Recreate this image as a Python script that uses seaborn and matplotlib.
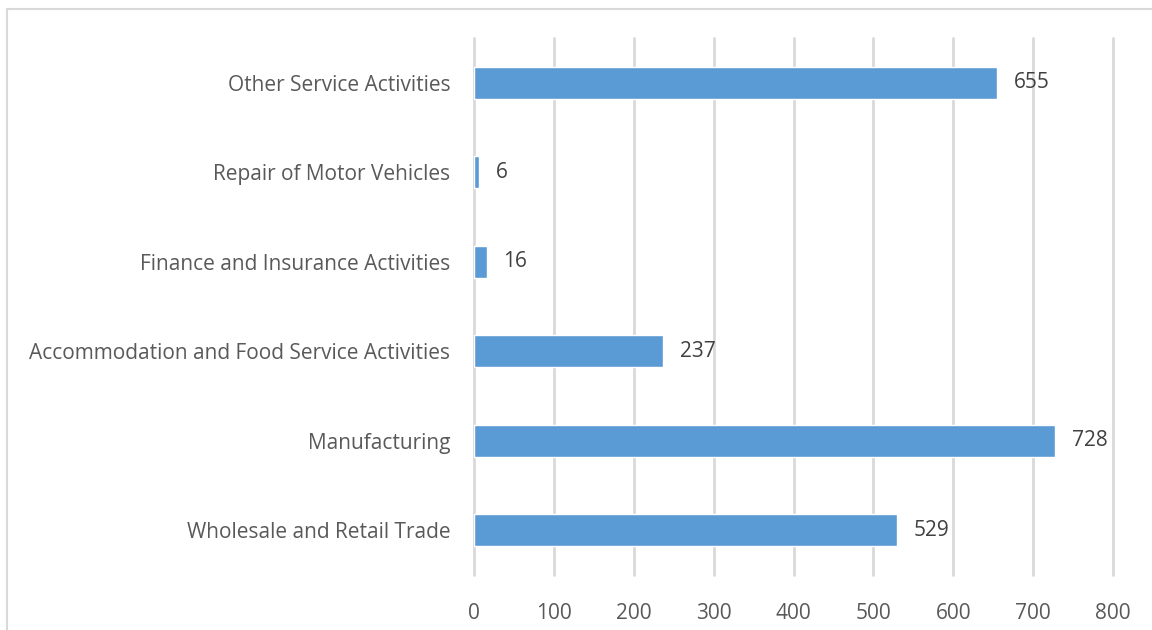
import pandas as pd
import matplotlib.pyplot as plt
import seaborn as sns
from matplotlib.patches import Rectangle

# Chart data (top to bottom as drawn)
sectors = [
    "Other Service Activities",
    "Repair of Motor Vehicles",
    "Finance and Insurance Activities",
    "Accommodation and Food Service Activities",
    "Manufacturing",
    "Wholesale and Retail Trade",
]
counts = [655, 6, 16, 237, 728, 529]
x_ticks = [0, 100, 200, 300, 400, 500, 600, 700, 800]

df = pd.DataFrame({"Sector": sectors, "Count": counts})

sns.set_style("white")
plt.rcParams["font.family"] = ["Open Sans", "DejaVu Sans"]

text_color = "#595959"
bar_color = "#5B9BD5"
grid_color = "#D9D9D9"

fig = plt.figure(figsize=(11.52, 6.3), dpi=100)
ax = fig.add_axes([474 / 1152, 1 - 575 / 630, (1113 - 474) / 1152, (575 - 38) / 630])

sns.barplot(data=df, x="Count", y="Sector", color=bar_color, width=0.36,
            saturation=1, ax=ax, zorder=3)

ax.set_xlim(0, 800)
ax.set_ylim(5.5, -0.5)
ax.set_xticks(x_ticks)
ax.xaxis.grid(True, color=grid_color, linewidth=2)
for gl in ax.get_xgridlines():
    gl.set_clip_on(False)
ax.set_axisbelow(True)
for s in ax.spines.values():
    s.set_visible(False)

ax.set_xlabel("")
ax.set_ylabel("")
ax.tick_params(axis="x", length=0, pad=20, labelsize=15, labelcolor=text_color)
ax.tick_params(axis="y", length=0, pad=17, labelsize=15, labelcolor=text_color)

for i, v in enumerate(counts):
    ax.annotate(str(v), xy=(v, i), xytext=(12, 0), textcoords="offset points",
                va="center", ha="left", fontsize=15, color="#404040")

# Outer chart border (only top and left edges visible in the frame)
fig.patches.append(Rectangle((7 / 1152, -0.1), 1.2, 1 - 9 / 630 + 0.1,
                             transform=fig.transFigure, fill=False,
                             edgecolor="#D9D9D9", linewidth=1.5))

fig.savefig("out.png", dpi=100)
